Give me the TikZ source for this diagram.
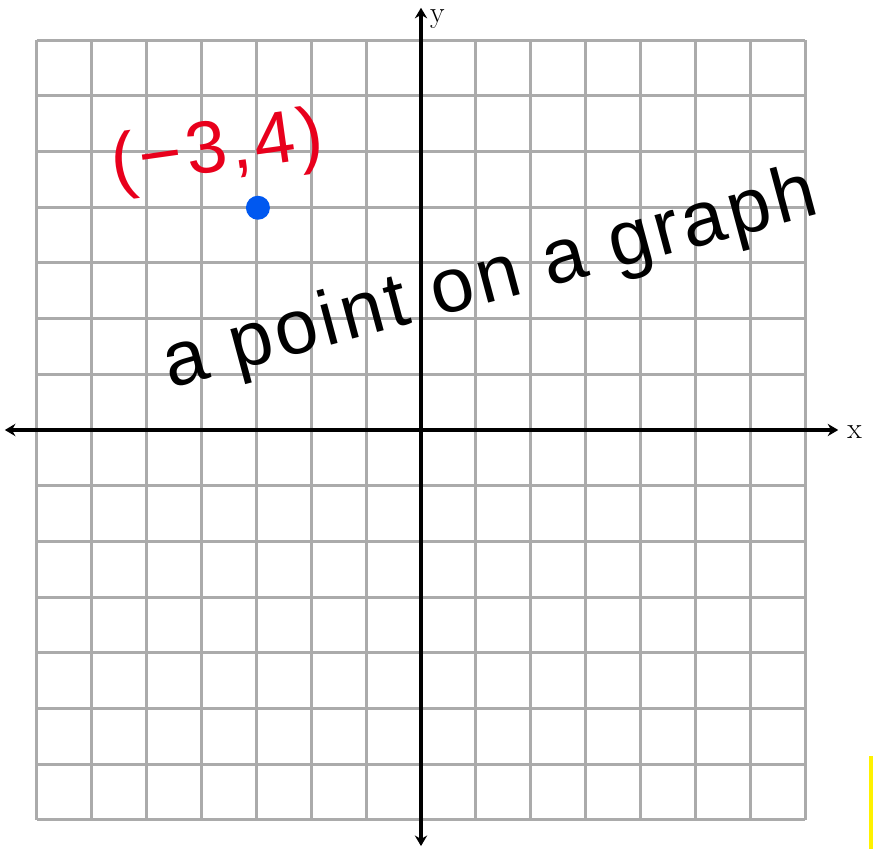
\documentclass[tikz,border=0pt]{standalone}
\usepackage{fontspec}
\usepackage{tikz}
\usetikzlibrary{arrows.meta}
\newfontfamily\handfont[LetterSpace=5]{Liberation Sans}
\definecolor{gridgray}{HTML}{ABABAB}
\definecolor{penred}{HTML}{E8001C}
\definecolor{penblue}{HTML}{0058F0}

\begin{document}
\begin{tikzpicture}[x=1.098cm, y=1.114cm,
  gridline/.style={gridgray, line width=1.7pt},
  axis/.style={black, line width=2.3pt, {Stealth[length=6pt,width=7pt]}-{Stealth[length=6pt,width=7pt]}},
  axislabel/.style={font=\fontsize{17}{20}\selectfont, inner sep=0pt},
  hand/.style={font=\handfont\fontsize{44}{48}\selectfont, inner sep=0pt}]
\useasboundingbox (-8.42cm,-8.38cm) rectangle (9.04cm,8.6cm);
\fill[white] (-8.42cm,-8.38cm) rectangle (9.04cm,8.6cm);
% grid
\foreach \i in {-7,...,7} {
  \draw[gridline] (\i,-7) -- (\i,7);
  \draw[gridline] (-7,\i) -- (7,\i);
}
% axes
\draw[axis] (-7.58,0) -- (7.6,0);
\draw[axis] (0,-7.47) -- (0,7.58);
\node[axislabel] (xlab) at (7.9,-0.04) {x};
\node[axislabel] (ylab) at (0.3,7.38) {y};
% the point
\fill[penblue] (-2.97,3.99) circle (0.24cm);
\node[hand, penred, font=\handfont\fontsize{42}{46}\selectfont, rotate=8] (coord) at (-3.7,4.98) {(−3,4)};
\node[hand, rotate=15, anchor=base west] (caption) at (-4.57,0.75) {a point on a graph};
% yellow mark
\fill[yellow] (8.96cm,-6.52cm) rectangle (9.04cm,-8.38cm);
\end{tikzpicture}
\end{document}
